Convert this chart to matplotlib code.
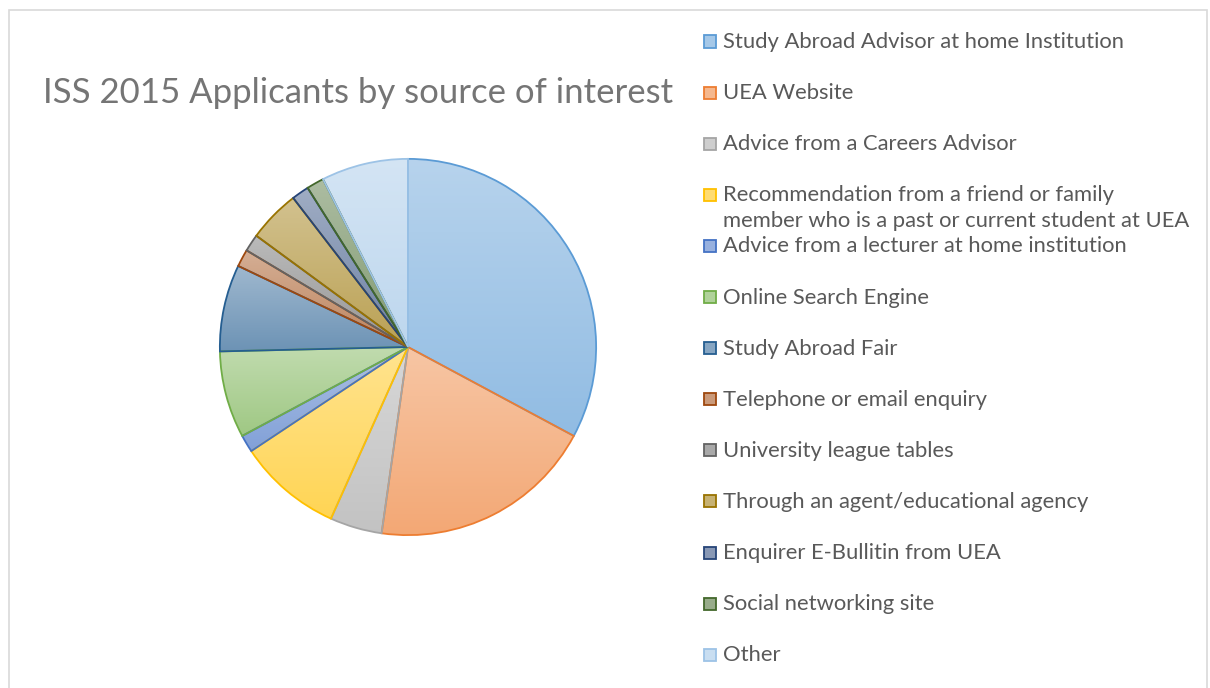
import numpy as np
import matplotlib.pyplot as plt
from matplotlib.colors import to_rgb
from matplotlib.patches import Rectangle

plt.rcParams['font.family'] = ['Lato', 'DejaVu Sans']

sources = ["Study Abroad Advisor at home Institution", "UEA Website",
           "Advice from a Careers Advisor",
           "Recommendation from a friend or family\nmember who is a past or current student at UEA",
           "Advice from a lecturer at home institution", "Online Search Engine",
           "Study Abroad Fair", "Telephone or email enquiry", "University league tables",
           "Through an agent/educational agency", "Enquirer E-Bullitin from UEA",
           "Social networking site", "Other"]
applicants = [22, 13, 3, 6, 1, 5, 5, 1, 1, 3, 1, 1, 5]
colors = ["#5B9BD5", "#ED7D31", "#A5A5A5", "#FFC000", "#4472C4", "#70AD47",
          "#255E91", "#9E480E", "#636363", "#997300", "#264478", "#43682B", "#9DC3E6"]

W, H = 1210, 688
fig = plt.figure(figsize=(W / 100, H / 100), dpi=100)

# chart border (bottom edge falls outside the image)
fig.patches.append(Rectangle((9 / W, -0.05), (W - 12) / W, (H - 10) / H + 0.05,
                             transform=fig.transFigure,
                             fill=False, edgecolor="#D9D9D9", lw=1.2))


def tint(c, k):
    r = np.array(to_rgb(c))
    return r + (1 - r) * k


cx, cy, rad = 408, 347, 190
ax = fig.add_axes([(cx - rad) / W, 1 - (cy + rad) / H, 2 * rad / W, 2 * rad / H])
wedges, _ = ax.pie(applicants, startangle=90, counterclock=False, radius=1,
                   colors=colors, wedgeprops=dict(linewidth=1.3))
for w, c in zip(wedges, colors):
    w.set_edgecolor(c)
    w.set_facecolor("none")
    # vertical gradient fill, lighter at top
    path = w.get_path()
    ext = path.get_extents()
    top, bot = tint(c, 0.56), tint(c, 0.33)
    t = np.linspace(0, 1, 64)[:, None, None]
    grad = top * (1 - t) + bot * t
    grad = np.repeat(grad, 2, axis=1)
    im = ax.imshow(grad, extent=[ext.x0, ext.x1, ext.y0, ext.y1], origin="upper",
                   aspect="auto", zorder=w.get_zorder() - 0.1, interpolation="bilinear")
    im.set_clip_path(w)
ax.set_xlim(-1.01, 1.01)
ax.set_ylim(-1.01, 1.01)
ax.set_aspect("equal")
ax.axis("off")

fig.text(358 / W, 1 - 93 / H, "ISS 2015 Applicants by source of interest",
         ha="center", va="center", fontsize=25, color="#757575")

# legend
for i, (lab, c) in enumerate(zip(sources, colors)):
    y = 41 + 51.1 * i
    fig.patches.append(Rectangle((704 / W, 1 - (y + 6.5) / H), 12 / W, 12 / H,
                                 transform=fig.transFigure, facecolor=tint(c, 0.45),
                                 edgecolor=c, lw=1.3))
    fig.text(723 / W, 1 - (y + 1) / H, lab.split("\n")[0], ha="left", va="center",
             fontsize=15.8, color="#595959")
    if "\n" in lab:
        fig.text(723 / W, 1 - (y + 27) / H, lab.split("\n")[1], ha="left", va="center",
                 fontsize=15.8, color="#595959")

fig.savefig("out.png", dpi=100)
